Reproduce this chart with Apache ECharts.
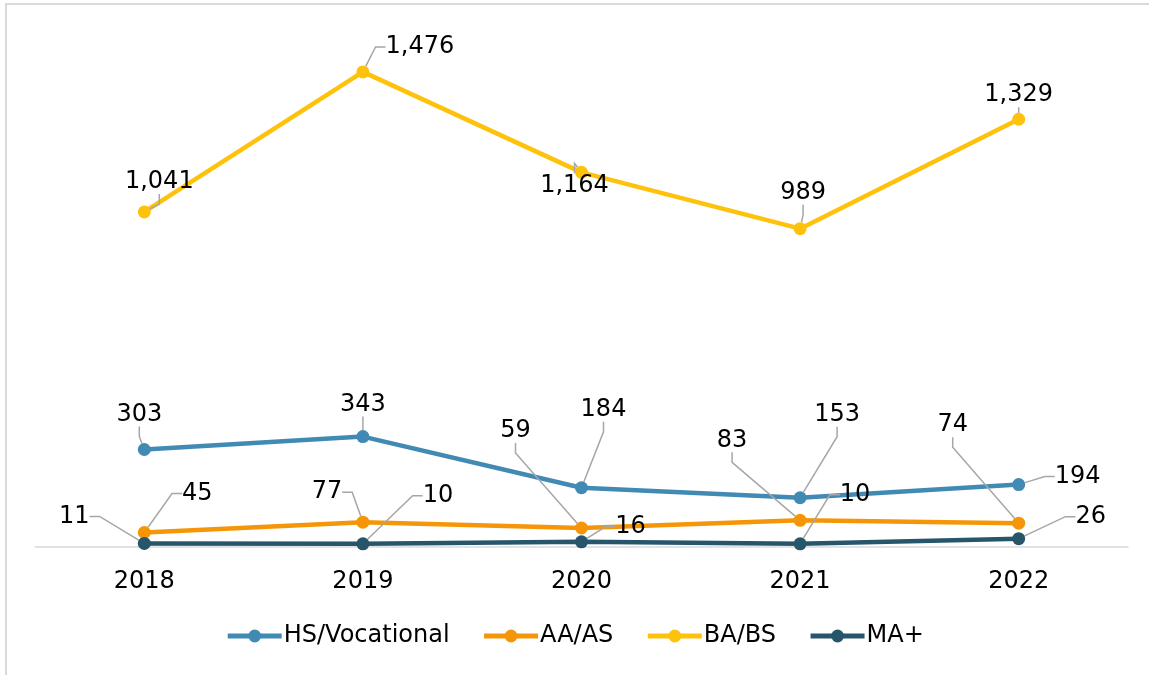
<!DOCTYPE html>
<html>
<head>
<meta charset="utf-8">
<script src="https://cdn.jsdelivr.net/npm/echarts@6/dist/echarts.min.js"></script>
<style>
html,body{margin:0;padding:0;background:#fff;overflow:hidden;}
#frame{position:absolute;left:5px;top:3px;width:1150px;height:680px;border-top:2px solid #d9d9d9;border-left:2px solid #d9d9d9;box-sizing:border-box;}
#chart{position:absolute;left:0;top:0;width:1149px;height:675px;}
</style>
</head>
<body>
<div id="frame"></div>
<div id="chart"></div>
<script>
const categories = ['2018', '2019', '2020', '2021', '2022'];
const seriesNames = ['HS/Vocational', 'AA/AS', 'BA/BS', 'MA+'];
const hsVocational = [303, 343, 184, 153, 194];
const aaAs = [45, 77, 59, 83, 74];
const baBs = [1041, 1476, 1164, 989, 1329];
const maPlus = [11, 10, 16, 10, 26];

const colors = ['#418AB4', '#F59608', '#FEC20C', '#27566B'];
// label offsets (px) relative to each point, per series
const labelOffsets = [
  [[-5,-35],[0,-32],[22,-78],[37,-83],[59,-8]],
  [[53,-39],[-36,-30],[-66,-97],[-68,-80],[-66,-98]],
  [[15,-30],[57,-25],[-7,13],[3,-36],[0,-24]],
  [[-70,-27],[75,-48],[49,-15],[55,-49],[72,-22]]
];
const FONT = 'DejaVu Sans';

const chart = echarts.init(document.getElementById('chart'));
const allData = [hsVocational, aaAs, baBs, maPlus];

chart.setOption({
  backgroundColor: 'transparent',
  animation: false,
  textStyle: { fontFamily: FONT },
  grid: { left: 35, right: 21, top: 32, bottom: 128 },
  legend: {
    bottom: 22,
    left: 'center',
    itemWidth: 54,
    itemHeight: 16,
    itemGap: 32,
    lineStyle: { width: 5 },
    textStyle: { fontSize: 24, color: '#000', fontFamily: FONT, padding: [0, 0, 0, -3] },
    data: seriesNames
  },
  xAxis: {
    type: 'category',
    data: categories,
    axisLine: { lineStyle: { color: '#d9d9d9', width: 1.5 } },
    axisTick: { show: false },
    axisLabel: { fontSize: 24, color: '#000', margin: 23, fontFamily: FONT }
  },
  yAxis: {
    type: 'value',
    min: 0,
    max: 1600,
    show: false,
    splitLine: { show: false }
  },
  series: allData.map((d, i) => ({
    name: seriesNames[i],
    type: 'line',
    data: d,
    color: colors[i],
    symbol: 'circle',
    symbolSize: 13,
    lineStyle: { width: 4.5, color: colors[i] },
    itemStyle: { color: colors[i] },
    z: 2 + i,
    label: {
      show: true,
      position: 'inside',
      fontSize: 24,
      color: '#000',
      fontFamily: FONT,
      formatter: p => p.value.toLocaleString('en-US')
    },
    labelLine: {
      show: true,
      length2: 10,
      lineStyle: { color: '#a6a6a6', width: 1.5 }
    },
    labelLayout: function (p) {
      const o = labelOffsets[i][p.dataIndex];
      return { dx: o[0], dy: o[1] };
    }
  }))
});
</script>
</body>
</html>
